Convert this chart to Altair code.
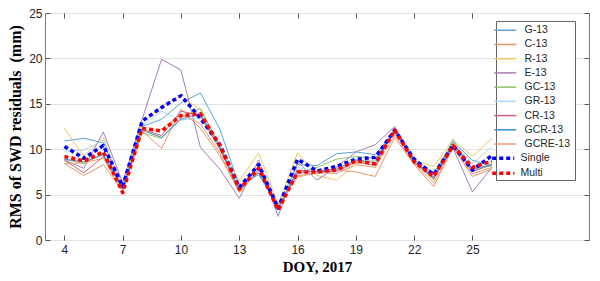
import altair as alt
import pandas as pd

days = list(range(4, 27))
thin_names = ["G-13", "C-13", "R-13", "E-13", "GC-13", "GR-13", "CR-13",
              "GCR-13", "GCRE-13"]
thick_names = ["Single", "Multi"]

g13 = [10.9, 11.2, 10.7, 5.8, 12.5, 13.3, 15.1, 16.2, 12.2, 6.0, 7.2, 3.8, 8.3, 8.2, 9.5, 9.7, 9.4, 12.0, 9.0, 7.3, 10.8, 8.8, 8.1]
c13 = [8.4, 7.1, 8.3, 5.4, 12.0, 10.1, 14.4, 12.3, 9.3, 5.3, 7.6, 3.9, 7.1, 7.3, 7.7, 7.5, 7.0, 11.3, 8.3, 5.9, 10.2, 7.0, 7.8]
r13 = [12.3, 9.2, 11.3, 5.8, 12.9, 14.7, 15.9, 14.3, 10.5, 6.5, 9.6, 3.9, 9.6, 7.1, 6.6, 8.4, 8.8, 12.0, 8.8, 8.1, 11.0, 9.2, 11.2]
e13 = [8.8, 7.9, 11.9, 6.3, 13.3, 19.9, 18.7, 10.2, 7.8, 4.6, 8.8, 2.6, 8.6, 6.6, 8.0, 9.7, 10.5, 12.5, 8.7, 6.8, 10.1, 5.3, 8.0]
gc13 = [8.9, 8.4, 9.5, 5.6, 11.8, 11.2, 13.5, 14.5, 10.2, 5.4, 7.8, 3.6, 7.4, 8.0, 8.9, 9.2, 9.0, 12.1, 8.7, 6.6, 11.1, 7.6, 8.2]
gr13 = [9.8, 9.9, 11.0, 5.9, 12.6, 14.2, 13.2, 13.5, 10.5, 5.9, 7.6, 3.7, 8.0, 7.4, 7.4, 8.8, 8.7, 11.9, 9.0, 7.2, 10.7, 8.4, 10.3]
cr13 = [8.8, 7.4, 9.2, 5.6, 12.2, 11.5, 14.2, 13.7, 10.0, 5.5, 8.1, 3.4, 7.7, 7.5, 7.6, 8.6, 8.2, 12.1, 8.5, 6.8, 10.4, 7.5, 8.4]
gcr13 = [8.9, 8.6, 9.4, 5.7, 12.1, 11.3, 13.3, 13.9, 10.3, 5.6, 7.4, 3.5, 7.4, 7.6, 7.8, 8.8, 8.5, 12.2, 8.8, 6.9, 10.6, 7.8, 8.3]
gcre13 = [8.4, 8.5, 9.0, 5.3, 11.9, 12.2, 13.8, 12.8, 9.6, 5.2, 7.8, 3.8, 6.9, 7.5, 7.3, 8.3, 8.0, 11.6, 8.4, 6.3, 10.1, 7.3, 8.0]
single = [10.3, 9.0, 10.4, 5.9, 13.1, 14.6, 15.9, 13.4, 10.5, 5.8, 8.3, 3.5, 8.9, 7.6, 8.1, 8.9, 9.1, 12.1, 8.9, 7.2, 10.4, 7.7, 9.3]
multi = [9.2, 8.7, 9.7, 5.2, 12.3, 12.0, 13.7, 13.9, 10.4, 5.6, 7.9, 3.3, 7.5, 7.5, 7.7, 8.7, 8.4, 12.1, 8.6, 7.0, 10.4, 8.0, 8.7]

thin_values = [g13, c13, r13, e13, gc13, gr13, cr13, gcr13, gcre13]
thick_values = [single, multi]

thin_colors = ["#5aa5d6", "#e8946a", "#f0c75a", "#a77bb8", "#94c06a", "#a8dcf3",
               "#c8617a", "#3f8fcc", "#ef9b73"]
thick_colors = ["#0000ff", "#ff0000"]

x_ticks = [4, 7, 10, 13, 16, 19, 22, 25]
y_ticks = [0, 5, 10, 15, 20, 25]


def long_frame(names, values):
    rows = []
    for name, vals in zip(names, values):
        for d, v in zip(days, vals):
            rows.append({"day": d, "rms": v, "series": name})
    return pd.DataFrame(rows)


df_thin = long_frame(thin_names, thin_values)
df_thick = long_frame(thick_names, thick_values)

x_scale = alt.Scale(domain=[3, 31], nice=False, zero=False)
y_scale = alt.Scale(domain=[0, 25], nice=False, zero=True)

LX = 451
LY = 8
legend_thin = alt.Legend(
    title=["\u00a0", "\u00a0"], titleOrient="bottom", titleFontSize=10,
    titleLineHeight=14.35, titlePadding=1.35,
    orient="none", legendX=LX, legendY=LY,
    strokeColor="#666666", fillColor="white",
    symbolType="M-3.4,0H3.4", symbolSize=42, symbolStrokeWidth=1.5,
    labelFont="Liberation Sans", labelFontSize=10.5, labelColor="#262626",
    padding=4, rowPadding=3.22, labelOffset=14,
)
legend_thick = alt.Legend(
    title=None, orient="none", legendX=LX - 2, legendY=LY + 128,
    symbolType="M-3.4,0H3.4", symbolSize=42, symbolStrokeWidth=3.5,
    symbolDash=[4, 3],
    labelFont="Liberation Sans", labelFontSize=10.5, labelColor="#262626",
    padding=4, rowPadding=0, labelOffset=12,
)

lab_font = "Liberation Sans"
tit_font = "Liberation Serif"

x_main = alt.Axis(values=x_ticks, orient="bottom", title="DOY, 2017", offset=-5,
                  tickSize=5, tickColor="#555555", domain=False, grid=False,
                  labelFont=lab_font, labelFontSize=12, labelColor="#262626",
                  labelPadding=4, titleFont=tit_font, titleFontSize=15,
                  titleFontWeight="bold", titleColor="#000000", titlePadding=4)
y_main = alt.Axis(values=y_ticks, orient="left", title="RMS of SWD residuals\u00a0 (mm)",
                  offset=-5, tickSize=5, tickColor="#555555", domain=False,
                  grid=True, gridColor="#e3e3e3",
                  labelFont=lab_font, labelFontSize=12, labelColor="#262626",
                  labelPadding=3, titleFont=tit_font, titleFontSize=16,
                  titleFontWeight="bold", titleColor="#000000", titlePadding=5)
x_top = alt.Axis(values=x_ticks, orient="top", title=None, offset=-5, tickSize=5,
                 tickColor="#555555", domain=False, grid=False, labels=False)
y_right = alt.Axis(values=y_ticks, orient="right", title=None, offset=-5, tickSize=5,
                   tickColor="#555555", domain=False, grid=False, labels=False)

thin = alt.Chart(df_thin).mark_line(strokeWidth=1, strokeJoin="round").encode(
    x=alt.X("day:Q", scale=x_scale, axis=x_main),
    y=alt.Y("rms:Q", scale=y_scale, axis=y_main),
    color=alt.Color("series:N", sort=thin_names,
                    scale=alt.Scale(domain=thin_names, range=thin_colors),
                    legend=legend_thin),
)

thick = alt.Chart(df_thick).mark_line(
    strokeWidth=3.5, strokeDash=[4, 3], strokeCap="butt", strokeJoin="round"
).encode(
    x=alt.X("day:Q", scale=x_scale, axis=x_top),
    y=alt.Y("rms:Q", scale=y_scale, axis=y_right),
    color=alt.Color("series:N", sort=thick_names,
                    scale=alt.Scale(domain=thick_names, range=thick_colors),
                    legend=legend_thick),
)

chart = alt.layer(thin, thick).resolve_scale(
    color="independent"
).resolve_axis(
    x="independent", y="independent"
).properties(
    width=544, height=227,
    autosize=alt.AutoSizeParams(type="none"),
    padding={"left": 37, "top": 5, "right": 3, "bottom": 40},
).configure_view(stroke="#7a7a7a", strokeWidth=1)

chart.save("out.html", embed_options={"renderer": "svg", "actions": False})
